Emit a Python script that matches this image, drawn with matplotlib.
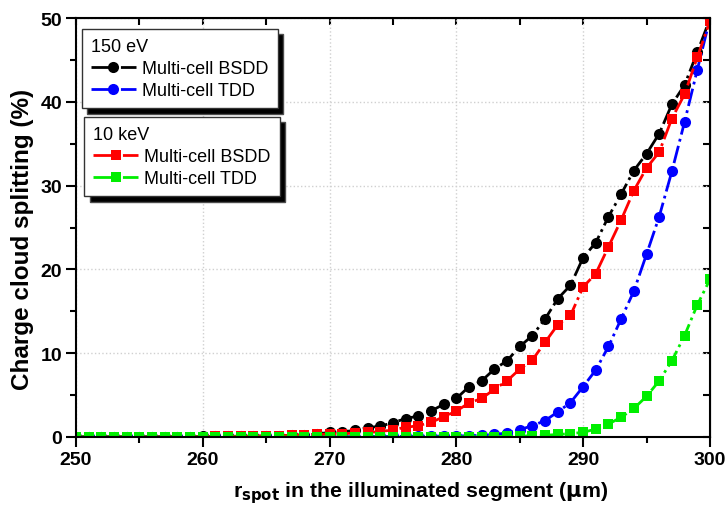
import matplotlib

matplotlib.use("Agg")
import matplotlib.pyplot as plt
from matplotlib.ticker import MultipleLocator

plt.rcParams["font.family"] = ["Liberation Sans", "DejaVu Sans"]

r_spot = list(range(250, 301))

# 150 eV
bsdd_150ev = [0.02, 0.02, 0.02, 0.03, 0.03, 0.03, 0.04, 0.04, 0.05, 0.05,
              0.06, 0.07, 0.08, 0.09, 0.1, 0.12, 0.15, 0.2, 0.25, 0.35,
              0.55, 0.6, 0.8, 1.1, 1.3, 1.7, 2.2, 2.5, 3.1, 3.9,
              4.6, 6.0, 6.7, 8.1, 9.1, 10.8, 12.1, 14.1, 16.5, 18.1,
              21.4, 23.2, 26.3, 29.0, 31.8, 33.8, 36.2, 39.7, 42.0, 45.9,
              49.9]
tdd_150ev = [0.0, 0.0, 0.0, 0.0, 0.0, 0.0, 0.0, 0.0, 0.0, 0.0,
             0.0, 0.0, 0.0, 0.0, 0.0, 0.01, 0.01, 0.01, 0.02, 0.02,
             0.03, 0.03, 0.04, 0.05, 0.06, 0.07, 0.08, 0.09, 0.1, 0.11,
             0.12, 0.15, 0.2, 0.3, 0.48, 0.87, 1.35, 1.95, 3.0, 4.1,
             6.0, 8.0, 10.8, 14.1, 17.4, 21.8, 26.3, 31.7, 37.6, 43.8,
             49.9]

# 10 keV
bsdd_10kev = [0.01, 0.01, 0.01, 0.02, 0.02, 0.02, 0.03, 0.03, 0.04, 0.04,
              0.05, 0.06, 0.07, 0.08, 0.09, 0.12, 0.15, 0.2, 0.25, 0.3,
              0.35, 0.4, 0.45, 0.55, 0.63, 0.87, 1.15, 1.35, 1.75, 2.4,
              3.1, 4.06, 4.6, 5.7, 6.7, 8.1, 9.2, 11.3, 13.4, 14.5,
              17.9, 19.5, 22.7, 25.9, 29.4, 32.1, 34.0, 38.0, 40.9, 45.3,
              49.6]
tdd_10kev = [0.0, 0.0, 0.0, 0.0, 0.0, 0.0, 0.0, 0.0, 0.0, 0.0,
             0.0, 0.0, 0.0, 0.0, 0.0, 0.0, 0.0, 0.0, 0.0, 0.0,
             0.0, 0.0, 0.0, 0.0, 0.0, 0.0, 0.0, 0.0, 0.0, 0.01,
             0.02, 0.03, 0.04, 0.05, 0.07, 0.1, 0.15, 0.2, 0.3, 0.4,
             0.55, 0.95, 1.55, 2.35, 3.4, 4.85, 6.7, 9.1, 12.1, 15.75,
             18.8]

fig = plt.figure(figsize=(7.27, 5.10), dpi=100)
ax = fig.add_axes([0.1045, 0.1412, 0.872, 0.8215])

style = dict(linestyle="-.", lw=2, markeredgewidth=0)
h1, = ax.plot(r_spot, bsdd_150ev, color="black", marker="o", ms=8, **style)
h2, = ax.plot(r_spot, tdd_150ev, color="#0000ff", marker="o", ms=8, **style)
h3, = ax.plot(r_spot, bsdd_10kev, color="#ff0000", marker="s", ms=7, **style)
h4, = ax.plot(r_spot, tdd_10kev, color="#00ee00", marker="s", ms=7, **style)

ax.set_xlim(250, 300)
ax.set_ylim(0, 50)
ax.xaxis.set_major_locator(MultipleLocator(10))
ax.xaxis.set_minor_locator(MultipleLocator(5))
ax.yaxis.set_major_locator(MultipleLocator(10))
ax.yaxis.set_minor_locator(MultipleLocator(5))
ax.grid(True, which="major", linestyle=":", color="#d0d0d0", lw=1)
ax.set_axisbelow(True)

for s in ax.spines.values():
    s.set_linewidth(1.5)

ax.tick_params(which="both", direction="out", width=1.5,
               labelsize=14, pad=3)
ax.tick_params(which="major", length=7)
ax.tick_params(which="minor", length=4)
for lab in ax.get_xticklabels() + ax.get_yticklabels():
    lab.set_fontweight("bold")

# inward ticks on top and right
sec_x = ax.secondary_xaxis("top")
sec_x.xaxis.set_major_locator(MultipleLocator(5))
sec_x.tick_params(direction="in", length=5, width=1.5, labeltop=False)
sec_y = ax.secondary_yaxis("right")
sec_y.yaxis.set_major_locator(MultipleLocator(5))
sec_y.tick_params(direction="in", length=5, width=1.5, labelright=False)

ax.set_xlabel(r"r$_{\mathbf{spot}}$ in the illuminated segment ($\mathbf{\mu}$m)",
              fontsize=15.3, fontweight="bold")
ax.xaxis.set_label_coords(0.543, -0.1)
ax.set_ylabel("Charge cloud splitting (%)", fontsize=17.5, fontweight="bold")
ax.yaxis.set_label_coords(-0.066, 0.473)

shadow = dict(ox=4, oy=-4, facecolor="black", alpha=1)
leg_kw = dict(loc="upper left", borderaxespad=0, fontsize=13,
              title_fontsize=13, fancybox=False, shadow=shadow,
              framealpha=1, edgecolor="#333333", handlelength=2.5,
              handletextpad=0.35, labelspacing=0.28, borderpad=0.5,
              alignment="left")
leg1 = ax.legend([h1, h2], ["Multi-cell BSDD", "Multi-cell TDD"],
                 title="150 eV", bbox_to_anchor=(0.009, 0.974), **leg_kw)
leg1.get_frame().set_linewidth(1)
ax.add_artist(leg1)
leg2 = ax.legend([h3, h4], ["Multi-cell BSDD", "Multi-cell TDD"],
                 title="10 keV", bbox_to_anchor=(0.0126, 0.764), **leg_kw)
leg2.get_frame().set_linewidth(1)

fig.savefig("out.png", dpi=100)
